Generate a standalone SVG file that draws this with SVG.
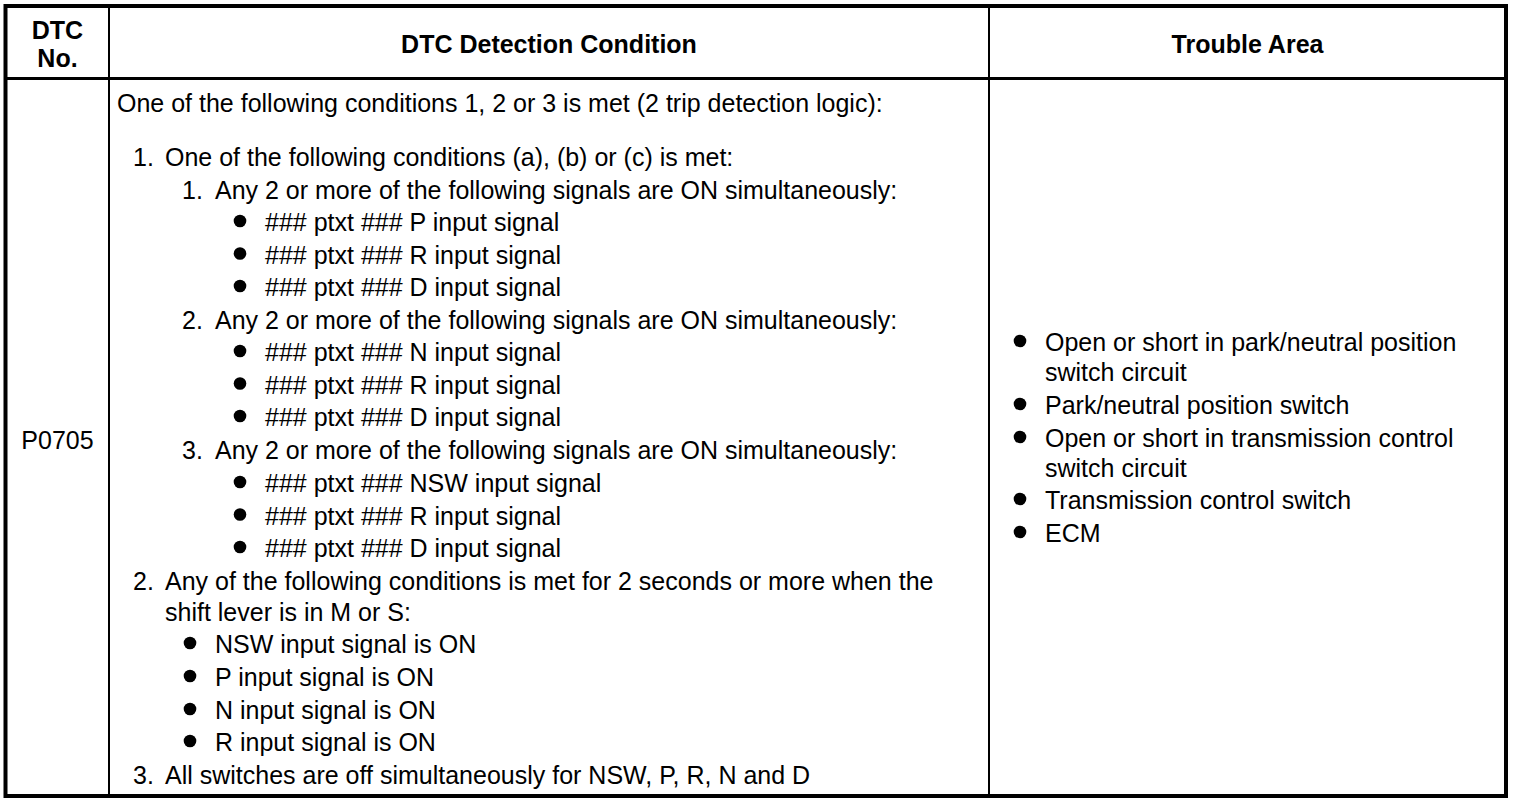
<svg xmlns="http://www.w3.org/2000/svg" width="1520" height="802" viewBox="0 0 1520 802">
<style>
text{font-family:"Liberation Sans",Arial,Helvetica,sans-serif;font-size:25px;fill:#000}
.h{font-weight:bold;text-anchor:middle}
.c{text-anchor:middle}
.b{fill:#000}
</style>
<rect width="1520" height="802" fill="#fff"/>
<g id="grid" fill="none" stroke="#000">
<rect x="5.5" y="6" width="1500.5" height="790" stroke-width="4"/>
<line x1="5.5" y1="78.5" x2="1506" y2="78.5" stroke-width="3"/>
<line x1="109" y1="6" x2="109" y2="796" stroke-width="2"/>
<line x1="989" y1="6" x2="989" y2="796" stroke-width="2"/>
</g>
<g id="header">
<text class="h" x="57.5" y="39">DTC</text>
<text class="h" x="57.5" y="67">No.</text>
<text class="h" x="549" y="53">DTC Detection Condition</text>
<text class="h" x="1247.5" y="53">Trouble Area</text>
</g>
<g id="dtc">
<text class="c" x="57.5" y="449">P0705</text>
</g>
<g id="condition">
<text x="117" y="112">One of the following conditions 1, 2 or 3 is met (2 trip detection logic):</text>
<text x="133" y="166">1.</text><text x="165" y="166">One of the following conditions (a), (b) or (c) is met:</text>
<text x="182" y="198.5">1.</text><text x="215" y="198.5">Any 2 or more of the following signals are ON simultaneously:</text>
<circle class="b" cx="240" cy="221" r="6.3"/><text x="265" y="231">### ptxt ### P input signal</text>
<circle class="b" cx="240" cy="253.5" r="6.3"/><text x="265" y="263.5">### ptxt ### R input signal</text>
<circle class="b" cx="240" cy="286" r="6.3"/><text x="265" y="296">### ptxt ### D input signal</text>
<text x="182" y="328.5">2.</text><text x="215" y="328.5">Any 2 or more of the following signals are ON simultaneously:</text>
<circle class="b" cx="240" cy="351" r="6.3"/><text x="265" y="361">### ptxt ### N input signal</text>
<circle class="b" cx="240" cy="383.5" r="6.3"/><text x="265" y="393.5">### ptxt ### R input signal</text>
<circle class="b" cx="240" cy="416" r="6.3"/><text x="265" y="426">### ptxt ### D input signal</text>
<text x="182" y="458.5">3.</text><text x="215" y="458.5">Any 2 or more of the following signals are ON simultaneously:</text>
<circle class="b" cx="240" cy="482" r="6.3"/><text x="265" y="492">### ptxt ### NSW input signal</text>
<circle class="b" cx="240" cy="514.5" r="6.3"/><text x="265" y="524.5">### ptxt ### R input signal</text>
<circle class="b" cx="240" cy="547" r="6.3"/><text x="265" y="557">### ptxt ### D input signal</text>
<text x="133" y="589.5">2.</text><text x="165" y="589.5">Any of the following conditions is met for 2 seconds or more when the</text>
<text x="165" y="621">shift lever is in M or S:</text>
<circle class="b" cx="190" cy="643" r="6.3"/><text x="215" y="653">NSW input signal is ON</text>
<circle class="b" cx="190" cy="676" r="6.3"/><text x="215" y="686">P input signal is ON</text>
<circle class="b" cx="190" cy="709" r="6.3"/><text x="215" y="719">N input signal is ON</text>
<circle class="b" cx="190" cy="741" r="6.3"/><text x="215" y="751">R input signal is ON</text>
<text x="133" y="783.5">3.</text><text x="165" y="783.5">All switches are off simultaneously for NSW, P, R, N and D</text>
</g>
<g id="trouble">
<circle class="b" cx="1020" cy="341" r="6.3"/><text x="1045" y="351">Open or short in park/neutral position</text>
<text x="1045" y="381">switch circuit</text>
<circle class="b" cx="1020" cy="404" r="6.3"/><text x="1045" y="414">Park/neutral position switch</text>
<circle class="b" cx="1020" cy="437" r="6.3"/><text x="1045" y="447">Open or short in transmission control</text>
<text x="1045" y="477">switch circuit</text>
<circle class="b" cx="1020" cy="499" r="6.3"/><text x="1045" y="509">Transmission control switch</text>
<circle class="b" cx="1020" cy="532" r="6.3"/><text x="1045" y="542">ECM</text>
</g>
</svg>
